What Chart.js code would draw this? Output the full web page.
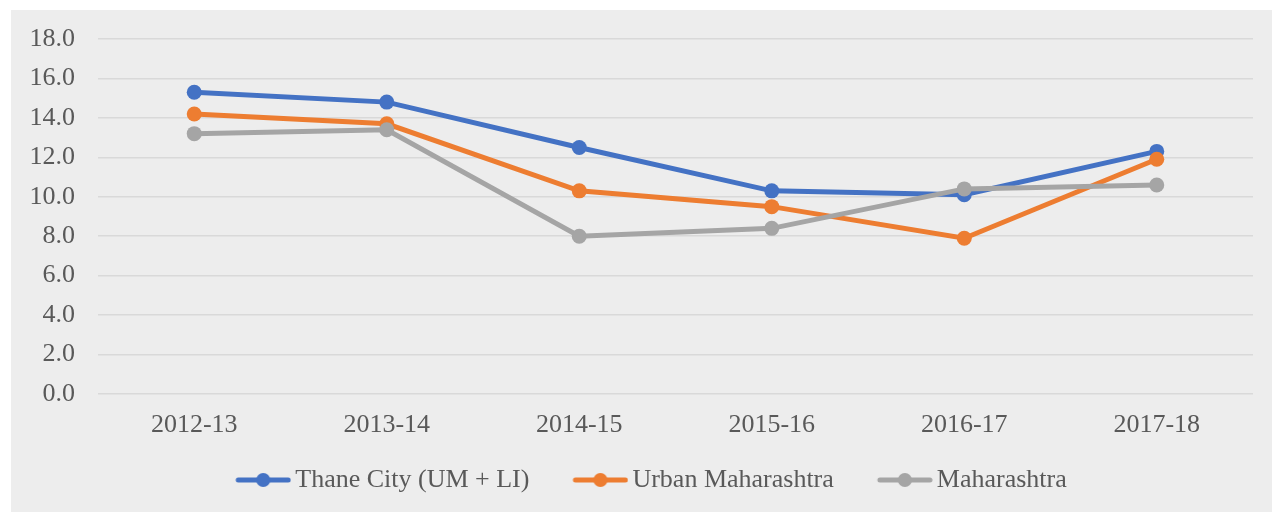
<!DOCTYPE html>
<html>
<head>
<meta charset="utf-8">
<script src="https://cdn.jsdelivr.net/npm/chart.js@4"></script>
<style>
  html, body { margin: 0; padding: 0; background: #ffffff; }
  .wrap { position: absolute; left: 11px; top: 10px; width: 1261px; height: 502px; background: #ededed; }
  canvas { display: block; }
</style>
</head>
<body>
<div class="wrap"><canvas id="chart" width="1261" height="502"></canvas></div>
<script>
const years = ["2012-13", "2013-14", "2014-15", "2015-16", "2016-17", "2017-18"];
const thaneCity = [15.3, 14.8, 12.5, 10.3, 10.1, 12.3];
const urbanMaharashtra = [14.2, 13.7, 10.3, 9.5, 7.9, 11.9];
const maharashtra = [13.2, 13.4, 8.0, 8.4, 10.4, 10.6];
const seriesNames = ["Thane City (UM + LI)", "Urban Maharashtra", "Maharashtra"];
const colors = ["#4472c4", "#ed7d31", "#a5a5a5"];

const textColor = "#595959";
const fontFamily = "'Liberation Serif', 'Times New Roman', serif";

// line + dot marker for the legend, with empty room on the left
// so the gap between legend entries gets wider
const legendMarker = (color) => {
  const c = document.createElement("canvas");
  c.width = 79;
  c.height = 16;
  const g = c.getContext("2d");
  g.strokeStyle = color;
  g.lineWidth = 5;
  g.lineCap = "round";
  g.beginPath();
  g.moveTo(26, 8);
  g.lineTo(76, 8);
  g.stroke();
  g.fillStyle = color;
  g.beginPath();
  g.arc(51, 8, 7, 0, Math.PI * 2);
  g.fill();
  return c;
};
const markers = colors.map(legendMarker);

// Excel centres the legend a bit right of the canvas middle
const legendShift = {
  id: "legendShift",
  afterLayout(chart) {
    const legend = chart.legend;
    const mid = (legend.left + legend.right) / 2;
    const d = 633 - mid;
    legend.left += d;
    legend.right += d;
  },
};

const makeSet = (label, data, i, order) => ({
  label: label,
  data: data,
  borderColor: colors[i],
  backgroundColor: colors[i],
  borderWidth: 5,
  pointRadius: 7.5,
  pointHoverRadius: 7.5,
  pointBorderWidth: 0,
  tension: 0,
  order: order,
});

new Chart(document.getElementById("chart"), {
  type: "line",
  data: {
    labels: years,
    datasets: [
      makeSet(seriesNames[0], thaneCity, 0, 2),
      makeSet(seriesNames[1], urbanMaharashtra, 1, 1),
      makeSet(seriesNames[2], maharashtra, 2, 0),
    ],
  },
  plugins: [legendShift],
  options: {
    responsive: false,
    animation: false,
    layout: {
      padding: { left: 0, right: 19, top: 29, bottom: 9 },
    },
    plugins: {
      tooltip: { enabled: false },
      legend: {
        position: "bottom",
        labels: {
          usePointStyle: true,
          pointStyleWidth: 61,
          padding: 29,
          color: textColor,
          font: { family: fontFamily, size: 26 },
          sort: (a, b) => a.datasetIndex - b.datasetIndex,
          generateLabels: (chart) => {
            const items = Chart.defaults.plugins.legend.labels.generateLabels(chart);
            items.forEach((item) => {
              item.pointStyle = markers[item.datasetIndex];
            });
            return items;
          },
        },
      },
    },
    scales: {
      x: {
        offset: true,
        grid: { display: false, drawTicks: false },
        border: { display: false },
        ticks: {
          color: textColor,
          padding: 20.6,
          font: { family: fontFamily, size: 26, lineHeight: 0.8 },
        },
        afterFit: (scale) => {
          scale.height = 44;
        },
      },
      y: {
        min: 0,
        max: 18,
        grid: { color: "#d9d9d9", lineWidth: 1.5, drawTicks: false },
        border: { display: false },
        ticks: {
          stepSize: 2,
          color: textColor,
          padding: 23,
          font: { family: fontFamily, size: 26 },
          callback: (value) => Number(value).toFixed(1),
        },
        afterFit: (scale) => {
          scale.width = 87;
          scale.paddingTop = 0;
          scale.paddingBottom = 0;
        },
      },
    },
  },
});
</script>
</body>
</html>
